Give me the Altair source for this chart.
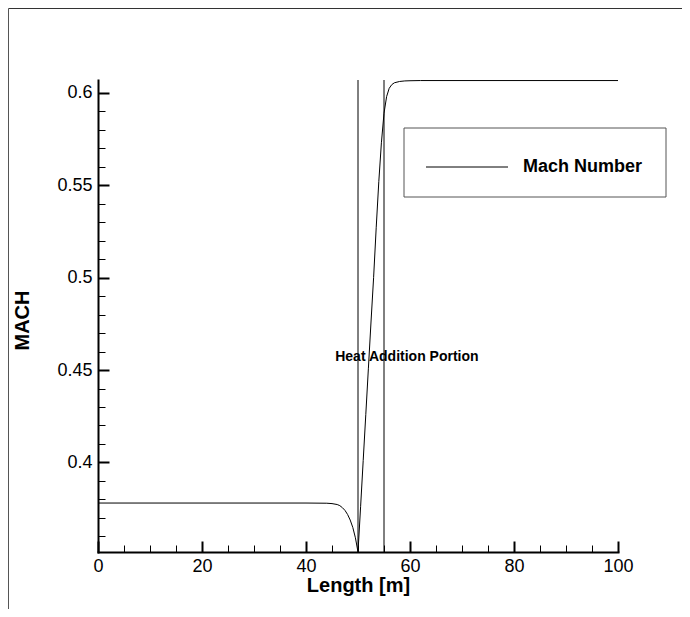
import altair as alt
import pandas as pd

# ---- data ----
length_m = [0, 10, 20, 30, 40, 44, 45, 46, 46.5, 47, 47.5, 48, 48.5, 49, 49.5, 50,
            50.5, 51, 51.5, 52, 52.5, 53, 53.5, 54, 54.5, 55, 55.5, 56, 56.5, 57,
            58, 59, 60, 62, 65, 70, 80, 90, 100]
mach = [0.378, 0.378, 0.378, 0.378, 0.378, 0.3779, 0.3777, 0.3772, 0.3766, 0.3755,
        0.3740, 0.3718, 0.3688, 0.3648, 0.3592, 0.3515,
        0.376, 0.401, 0.426, 0.451, 0.476, 0.500, 0.527, 0.552, 0.573, 0.589,
        0.598, 0.6025, 0.6045, 0.6055, 0.6062, 0.6065, 0.6066, 0.6067, 0.6067,
        0.6067, 0.6067, 0.6067, 0.6067]
heat_bounds = [50, 55]
annotation_text = ["Heat Addition Portion"]
annotation_x = [59.4]
annotation_y = [0.4573]
series_name = ["Mach Number"]
x_title = "Length [m]"
y_title = "MACH"
x_domain = [0, 100]
y_domain = [0.3515, 0.607]
x_major = [0, 20, 40, 60, 80, 100]
x_minor = [5, 10, 15, 25, 30, 35, 45, 50, 55, 65, 70, 75, 85, 90, 95]
y_major = [0.4, 0.45, 0.5, 0.55, 0.6]
y_minor = [0.36, 0.37, 0.38, 0.39, 0.41, 0.42, 0.43, 0.44, 0.46, 0.47, 0.48, 0.49,
           0.51, 0.52, 0.53, 0.54, 0.56, 0.57, 0.58, 0.59]

curve_df = pd.DataFrame({"length": length_m, "mach": mach})
bounds_df = pd.DataFrame({"length": heat_bounds})
ann_df = pd.DataFrame({"length": annotation_x, "mach": annotation_y, "label": annotation_text})
legend_df = pd.DataFrame({"label": series_name})

FONT = "Liberation Sans"
W, H = 520, 472

xs = alt.Scale(domain=x_domain, nice=False, zero=False)
ys = alt.Scale(domain=y_domain, nice=False, zero=False)

main_x = alt.Axis(orient="bottom", values=x_major, format="d", ticks=False,
                  domain=True, domainWidth=2, domainColor="black", domainCap="square",
                  labelFont=FONT, labelFontSize=18, labelColor="black", labelPadding=5,
                  labelFlush=False, labelOverlap=False, grid=False,
                  title=x_title, titleFont=FONT, titleFontSize=20, titleFontWeight="bold",
                  titleColor="black", titleX=W / 2, titleY=33, titleBaseline="middle",
                  titleAlign="center")
main_y = alt.Axis(orient="left", values=y_major, format="~g", ticks=False,
                  domain=True, domainWidth=2, domainColor="black", domainCap="square",
                  labelFont=FONT, labelFontSize=18, labelColor="black", labelPadding=6,
                  labelFlush=False, labelOverlap=False, grid=False,
                  title=y_title, titleFont=FONT, titleFontSize=20, titleFontWeight="bold",
                  titleColor="black", titleX=-76, titleY=240, titleBaseline="middle",
                  titleAlign="center", titleAngle=270)


def tick_axis(orient, values, length, width):
    return alt.Axis(orient=orient, values=values, offset=-length, tickSize=length,
                    tickWidth=width, tickColor="black", domain=False, labels=False,
                    grid=False, title=None)


curve = alt.Chart(curve_df).mark_line(color="black", strokeWidth=1).encode(
    x=alt.X("length:Q", scale=xs, axis=main_x),
    y=alt.Y("mach:Q", scale=ys, axis=main_y),
)

major_ticks = alt.Chart(curve_df).mark_point(opacity=0).encode(
    x=alt.X("length:Q", scale=xs, axis=tick_axis("bottom", x_major, 11, 2)),
    y=alt.Y("mach:Q", scale=ys, axis=tick_axis("left", y_major, 11, 2)),
)

minor_ticks = alt.Chart(ann_df).mark_point(opacity=0).encode(
    x=alt.X("length:Q", scale=xs, axis=tick_axis("bottom", x_minor, 7, 1)),
    y=alt.Y("mach:Q", scale=ys, axis=tick_axis("left", y_minor, 7, 1)),
)

rules = alt.Chart(bounds_df).mark_rule(color="black", strokeWidth=1).encode(
    x=alt.X("length:Q", scale=xs, axis=None),
)

annotation = alt.Chart(ann_df).mark_text(
    font=FONT, fontSize=14, fontWeight="bold", color="black",
    align="center", baseline="middle",
).encode(
    x=alt.X("length:Q", scale=xs, axis=None),
    y=alt.Y("mach:Q", scale=ys, axis=None),
    text="label:N",
)

# legend box (manual, like the original)
legend_box = alt.Chart(legend_df).mark_rect(fill="white", stroke="#555555", strokeWidth=1).encode(
    x=alt.value(306), x2=alt.value(568), y=alt.value(48), y2=alt.value(117),
)
legend_line = alt.Chart(legend_df).mark_rule(color="black", strokeWidth=1).encode(
    x=alt.value(328), x2=alt.value(410), y=alt.value(87),
)
legend_text = alt.Chart(legend_df).mark_text(
    font=FONT, fontSize=18, fontWeight="bold", color="black",
    align="left", baseline="middle",
).encode(x=alt.value(425), y=alt.value(87), text="label:N")

# outer frame (top and left edges visible)
frame_top = alt.Chart(legend_df).mark_rule(color="#333333", strokeWidth=1).encode(
    x=alt.value(-89.5), x2=alt.value(584), y=alt.value(-71.5),
)
frame_left = alt.Chart(legend_df).mark_rule(color="#555555", strokeWidth=1).encode(
    x=alt.value(-89.5), y=alt.value(-71.5), y2=alt.value(529),
)

chart = alt.layer(
    curve, major_ticks, minor_ticks, rules, annotation,
    legend_box, legend_line, legend_text, frame_top, frame_left,
).resolve_axis(x="independent", y="independent").properties(
    width=W, height=H,
    padding={"left": 90, "top": 72, "right": 64, "bottom": 57},
    autosize=alt.AutoSizeParams(type="none"),
    background="white",
).configure_view(stroke=None)

chart.save("out.html", embed_options={"renderer": "svg", "actions": False})
